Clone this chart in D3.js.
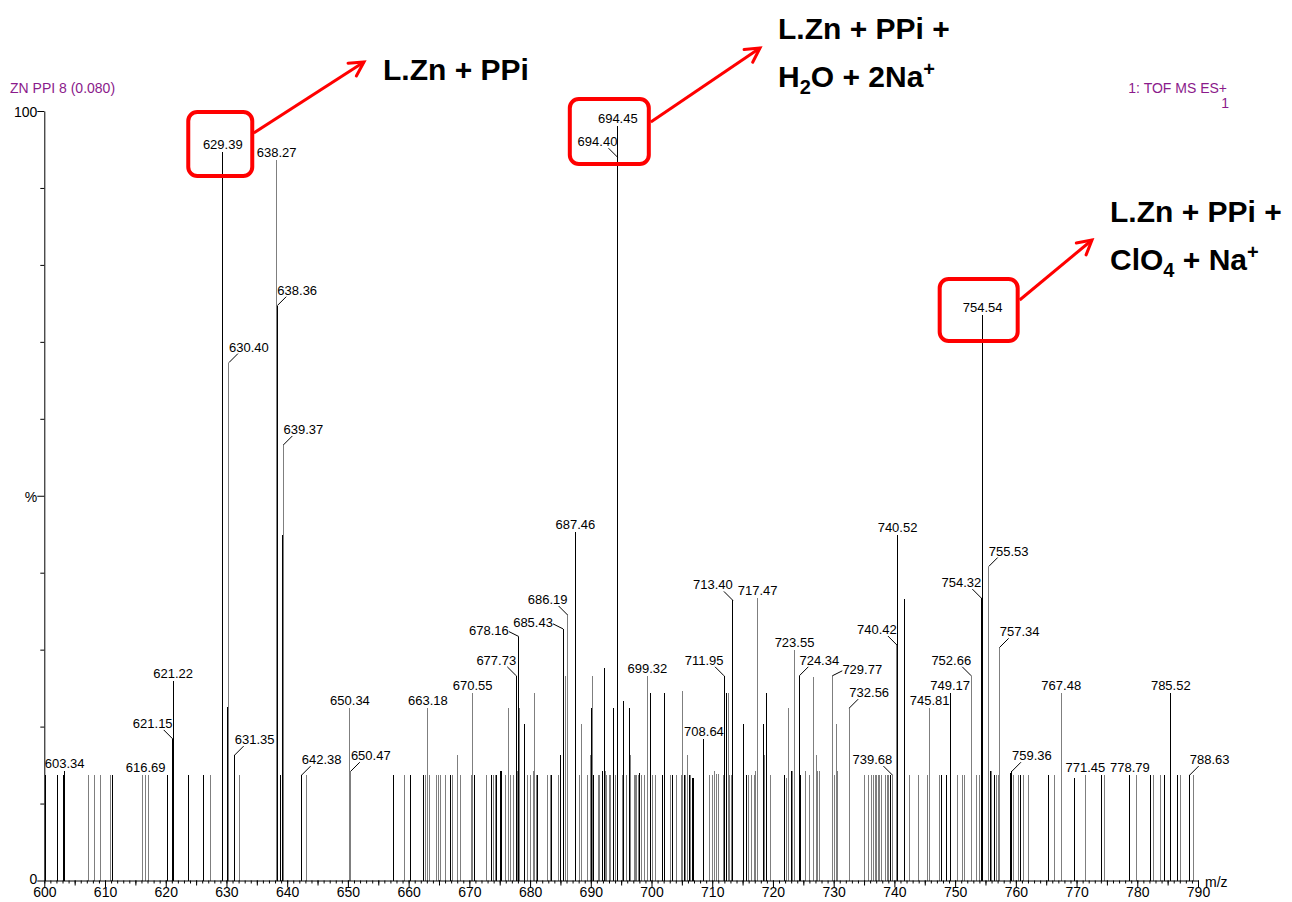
<!DOCTYPE html>
<html>
<head>
<meta charset="utf-8">
<script src="https://cdn.jsdelivr.net/npm/d3@7"></script>
<style>
  html, body { margin: 0; padding: 0; background: #fff; }
  svg { display: block; font-family: "Liberation Sans", Arial, sans-serif; }
</style>
</head>
<body>
<svg id="chart" width="1292" height="902"></svg>
<script>
// ---------------- DATA ----------------
const mzDomain = [600, 790];
const xTickLabels = [600, 610, 620, 630, 640, 650, 660, 670, 680, 690, 700, 710, 720, 730, 740, 750, 760, 770, 780, 790];
const yTickValues = [0, 10, 20, 30, 40, 50, 60, 70, 80, 90, 100];
const yTickLabels = {0: "0", 50: "%", 100: "100"};
const titleLeft = "ZN PPI 8 (0.080)";
const titleRight = ["1: TOF MS ES+", "1"];
const xAxisName = "m/z";

// black-drawn peaks: [m/z, relative intensity %]
const blackPeaks = [
  [600.17,13.7],[602.2,13.7],[603.2,13.7],[603.34,14.2],[611.2,13.7],[620.25,13.7],
  [621.15,18.4],[621.22,25.9],[623.8,13.7],[626.3,13.7],[629.39,94.7],[630.2,22.5],
  [631.35,16.3],[638.36,74.7],[638.9,13.7],[639.2,44.9],[642.38,13.7],[657.5,13.7],[660.3,13.7],
  [662.4,13.7],[666.9,13.7],[670.8,13.7],[673.65,13.7],[674.5,13.7],[675.1,14.2],[675.3,14.2],
  [677.73,26.6],[678.16,31.7],[679.1,20.4],[679.15,13.7],[681.3,13.7],[683.6,13.7],[685.0,16.3],
  [685.43,32.7],[687.46,45.3],[690.1,22.4],[690.5,13.7],[691.9,13.7],[692.0,14.2],[692.3,27.6],
  [693.7,22.4],[694.40,94.0],[694.45,98.0],[695.4,23.3],[696.3,22.4],[698.1,14.0],[699.9,24.4],
  [701.8,13.7],[702.1,24.4],[703.45,13.7],[705.4,13.7],[706.2,13.7],[706.7,13.3],[706.9,13.3],
  [708.64,18.4],[711.95,26.6],[712.3,24.4],[713.40,36.4],[715.1,20.4],[715.6,13.7],[718.5,20.4],
  [718.9,24.4],[721.9,13.7],[723.0,14.2],[724.34,26.6],[724.5,13.7],
  [739.4,13.7],[740.52,44.9],[741.6,36.6],[747.7,13.7],[748.6,13.7],[749.17,24.4],
  [754.32,36.7],[754.54,73.5],[755.8,14.2],[756.5,13.7],[759.2,14.0],[759.36,14.2],[760.8,13.7],
  [765.3,13.7],[769.6,13.3],[769.7,13.3],[774.1,13.7],[778.79,13.7],[782.2,13.7],[784.45,13.7],
  [785.52,24.4],[786.6,13.7],[788.63,13.7]
];

// grey-drawn peaks: [m/z, relative intensity %]
const greyPeaks = [
  [607.2,13.7],[608.2,13.7],[609.2,13.7],[610.9,13.7],[616.2,13.7],[616.69,13.7],[617.2,13.7],
  [627.3,13.7],[630.3,39.0],[630.40,67.3],[632.2,13.7],[638.27,93.6],[639.37,56.6],[643.2,13.7],
  [650.34,22.4],[650.47,14.2],[659.4,13.7],
  [662.8,13.7],[663.18,22.4],[663.45,13.7],[664.6,13.7],[664.9,13.7],[665.3,13.7],[666.1,13.7],
  [667.2,13.7],[668.1,16.3],[668.55,13.7],[670.4,13.7],[670.55,24.4],[672.8,13.7],[673.9,13.7],
  [674.3,13.7],[676.0,13.7],[676.4,22.4],[676.8,13.7],[677.2,13.7],[677.9,14.2],[678.25,22.4],
  [679.6,13.7],[680.0,13.7],[680.6,14.2],[680.8,24.4],[681.1,13.7],[682.9,13.7],[683.3,13.7],
  [684.6,13.7],[685.8,26.6],[686.19,34.5],[688.1,13.7],[688.4,20.4],[689.5,13.7],[689.9,16.3],
  [690.2,26.6],[691.2,13.7],[691.5,13.7],[692.5,14.2],[692.6,13.7],[693.0,13.7],[693.3,13.7],
  [694.0,13.7],[695.2,13.7],[695.9,13.7],[696.55,16.3],[697.2,13.7],[697.4,13.7],[697.6,13.7],
  [697.9,13.7],[698.4,13.7],[698.9,13.7],[699.32,26.6],[700.2,13.7],[700.6,13.7],[702.2,22.4],
  [703.2,13.7],[704.1,13.7],[704.9,13.7],[705.1,24.6],[705.6,13.7],[706.0,16.3],[706.4,13.7],
  [709.55,13.7],[710.1,13.7],[710.4,14.2],[710.7,13.9],[711.0,13.9],[711.8,13.7],[712.6,24.4],
  [712.8,13.7],[713.1,13.7],[715.9,13.7],[716.4,13.7],[717.0,13.7],[717.2,14.2],[717.47,36.7],
  [718.6,16.3],[719.6,13.7],[722.2,13.3],[722.5,22.4],[723.2,14.2],[723.55,30.0],[725.3,14.2],
  [725.4,14.2],[726.1,13.7],[726.6,26.4],[727.1,16.3],[727.3,14.2],[727.6,14.2],[729.77,26.6],
  [730.07,13.7],[730.4,20.4],[730.6,14.2],[732.56,22.4],[735.1,13.7],[735.7,13.7],[736.15,13.7],
  [736.5,13.7],[736.9,13.7],[737.1,13.7],[737.4,13.7],[737.6,13.7],[737.9,13.7],[738.5,13.7],
  [738.8,13.7],[739.1,13.7],[739.68,13.7],[740.42,30.6],[742.5,13.7],[743.9,13.7],[745.4,13.7],
  [745.81,22.4],[747.5,13.7],[750.4,13.7],[751.2,13.7],[751.5,13.7],[752.66,26.6],[753.6,13.7],
  [754.05,13.7],[755.45,38.2],[755.53,40.8],[756.0,14.2],[756.8,13.7],[757.1,13.7],[757.34,30.3],
  [759.6,13.7],[760.5,13.7],[761.2,13.7],[762.1,13.7],[766.35,13.7],[767.48,24.4],[771.45,13.7],
  [774.6,13.7],[779.8,13.7],[782.6,13.7],[783.85,13.7],[787.2,13.7],[789.3,13.7]
];

// labelled peaks (m/z values shown as text)
const labelledMz = [603.34,616.69,621.15,621.22,629.39,630.40,631.35,638.27,638.36,639.37,642.38,
  650.34,650.47,663.18,670.55,677.73,678.16,685.43,686.19,687.46,694.40,694.45,699.32,708.64,
  711.95,713.40,717.47,723.55,724.34,729.77,732.56,739.68,740.42,740.52,745.81,749.17,752.66,
  754.32,754.54,755.53,757.34,759.36,767.48,771.45,778.79,785.52,788.63];

// annotation texts
const annoLine1 = "L.Zn + PPi";
const annoLine2a = "L.Zn + PPi +";
const annoLine3a = "L.Zn + PPi +";

// ---------------- LAYOUT (not data) ----------------
// label placement: l/r = diagonal leader up-left/up-right, L/R = flatter leader, default = centred
const labelSide = {
  621.15:"l",630.40:"r",631.35:"r",638.36:"r",639.37:"r",642.38:"r",650.47:"r",
  677.73:"l",678.16:"L",685.43:"L",686.19:"l",694.40:"l",711.95:"l",713.40:"l",
  724.34:"r",729.77:"R",732.56:"r",739.68:"l",740.42:"l",752.66:"l",754.32:"l",
  755.53:"r",757.34:"r",759.36:"r",788.63:"r"
};

const svg = d3.select("#chart");
const x = d3.scaleLinear().domain(mzDomain).range([44.3, 1198]);
const y = d3.scaleLinear().domain([0, 100]).range([880.5, 111]);

// ---- peaks ----
const peaks = svg.append("g").attr("shape-rendering", "crispEdges");
peaks.selectAll("line.g").data(greyPeaks).join("line")
  .attr("class", "g")
  .attr("x1", d => x(d[0])).attr("x2", d => x(d[0]))
  .attr("y1", y(0)).attr("y2", d => y(d[1]))
  .attr("stroke", "#7f7f7f").attr("stroke-width", 1);
peaks.selectAll("line.k").data(blackPeaks).join("line")
  .attr("class", "k")
  .attr("x1", d => x(d[0])).attr("x2", d => x(d[0]))
  .attr("y1", y(0)).attr("y2", d => y(d[1]))
  .attr("stroke", "#000").attr("stroke-width", 1);

// ---- labels ----
const allPeaks = blackPeaks.concat(greyPeaks);
const lab = svg.append("g").attr("font-size", 13).attr("fill", "#000");
labelledMz.forEach(mz => {
  const p = allPeaks.find(d => Math.abs(d[0] - mz) < 1e-6);
  if (!p) return;
  const px = x(p[0]), py = y(p[1]);
  const side = labelSide[mz];
  if (side) {
    const s = (side === "l" || side === "L") ? -1 : 1;
    const flat = (side === "L" || side === "R");
    const ldx = flat ? 10 : 9, ldy = flat ? 5 : 9;
    lab.append("line")
      .attr("x1", px).attr("y1", py)
      .attr("x2", px + s * ldx).attr("y2", py - ldy)
      .attr("stroke", "#000").attr("stroke-width", 1);
    lab.append("text").attr("x", px + s * (flat ? 30 : 20)).attr("y", py - (flat ? 2 : 11))
      .attr("text-anchor", "middle").text(mz.toFixed(2));
  } else {
    lab.append("text").attr("x", px).attr("y", py - 3)
      .attr("text-anchor", "middle").text(mz.toFixed(2));
  }
});

// ---- axes ----
const axisFont = 14;
const gx = svg.append("g").attr("transform", `translate(0,${y(0)})`);
gx.call(d3.axisBottom(x).tickValues(d3.range(600, 791, 1)).tickSize(3).tickFormat("").tickSizeOuter(0));
const gx5 = svg.append("g").attr("transform", `translate(0,${y(0)})`);
gx5.call(d3.axisBottom(x).tickValues(d3.range(605, 791, 10)).tickSize(5).tickFormat("").tickSizeOuter(0));
gx5.select(".domain").remove();
const gx10 = svg.append("g").attr("transform", `translate(0,${y(0)})`);
gx10.call(d3.axisBottom(x).tickValues(xTickLabels).tickSize(7).tickPadding(0).tickSizeOuter(0));
gx10.select(".domain").remove();
gx10.selectAll("text").attr("font-size", axisFont).attr("font-family", "Liberation Sans, Arial, sans-serif").attr("fill", "#000");
[gx, gx5, gx10].forEach(g => g.selectAll("line, path").attr("stroke", "#000"));

const gy = svg.append("g").attr("transform", `translate(${x(600)},0)`);
gy.call(d3.axisLeft(y).tickValues(yTickValues).tickSize(4).tickPadding(1)
  .tickFormat(d => yTickLabels[d] || "").tickSizeOuter(0));
gy.selectAll(".tick").filter(d => yTickLabels[d] !== undefined).select("line").attr("x2", -7);
gy.selectAll(".tick text").attr("x", -7).attr("dy", d => d === 0 ? "0.22em" : "0.38em")
  .attr("font-size", axisFont).attr("font-family", "Liberation Sans, Arial, sans-serif").attr("fill", "#000");
gy.selectAll("line, path").attr("stroke", "#000");

svg.append("text").attr("x", 1205).attr("y", 887).attr("font-size", 14).text(xAxisName);

// ---- titles ----
svg.append("text").attr("x", 10).attr("y", 93).attr("font-size", 14).attr("fill", "#8b1a8b").text(titleLeft);
svg.append("text").attr("x", 1227).attr("y", 93).attr("text-anchor", "end").attr("font-size", 14).attr("fill", "#8b1a8b").text(titleRight[0]);
svg.append("text").attr("x", 1229).attr("y", 108).attr("text-anchor", "end").attr("font-size", 14).attr("fill", "#8b1a8b").text(titleRight[1]);

// ---- annotations ----
const red = "#ff0000";
const ann = svg.append("g");
function box(mz, dl, dr, y0, y1) {
  ann.append("rect").attr("x", x(mz) + dl).attr("y", y0)
    .attr("width", dr - dl).attr("height", y1 - y0)
    .attr("rx", 9).attr("ry", 9)
    .attr("fill", "none").attr("stroke", red).attr("stroke-width", 4);
}
function arrow(x1, y1, x2, y2) {
  ann.append("line").attr("x1", x1).attr("y1", y1).attr("x2", x2).attr("y2", y2)
    .attr("stroke", red).attr("stroke-width", 3);
  const a = Math.atan2(y2 - y1, x2 - x1), L = 16, w = 0.5;
  const p1 = [x2 - L * Math.cos(a - w), y2 - L * Math.sin(a - w)];
  const p2 = [x2 - L * Math.cos(a + w), y2 - L * Math.sin(a + w)];
  ann.append("path").attr("d", `M${p1[0]},${p1[1]}L${x2},${y2}L${p2[0]},${p2[1]}`)
    .attr("fill", "none").attr("stroke", red).attr("stroke-width", 3)
    .attr("stroke-linejoin", "miter").attr("stroke-linecap", "round");
}
box(629.39, -34.5, 29.5, 112, 176);
box(694.45, -48, 31, 99, 164);
box(754.54, -43, 35, 279, 341);
arrow(x(629.39) + 31, 133, 364, 62);
arrow(x(694.45) + 33, 122, 760, 48);
arrow(x(754.54) + 37, 300, 1092, 240);

const af = 30;
function annText(xp, yp, parts) {
  const t = ann.append("text").attr("x", xp).attr("y", yp)
    .attr("font-size", af).attr("font-weight", "bold")
    .attr("font-family", "Liberation Sans, Arial, sans-serif").attr("fill", "#000");
  parts.forEach(pt => {
    const ts = t.append("tspan").text(pt.t);
    if (pt.sub) ts.attr("font-size", 20).attr("dy", 7);
    if (pt.sup) ts.attr("font-size", 20).attr("dy", -11);
    if (pt.back) ts.attr("dy", pt.back);
  });
}
annText(383, 80, [{t: annoLine1}]);
annText(778, 39, [{t: annoLine2a}]);
annText(778, 87, [{t: "H"}, {t: "2", sub: true}, {t: "O + 2Na", back: -7}, {t: "+", sup: true}]);
annText(1110, 222, [{t: annoLine3a}]);
annText(1110, 270, [{t: "ClO"}, {t: "4", sub: true}, {t: " + Na", back: -7}, {t: "+", sup: true}]);
</script>
</body>
</html>
